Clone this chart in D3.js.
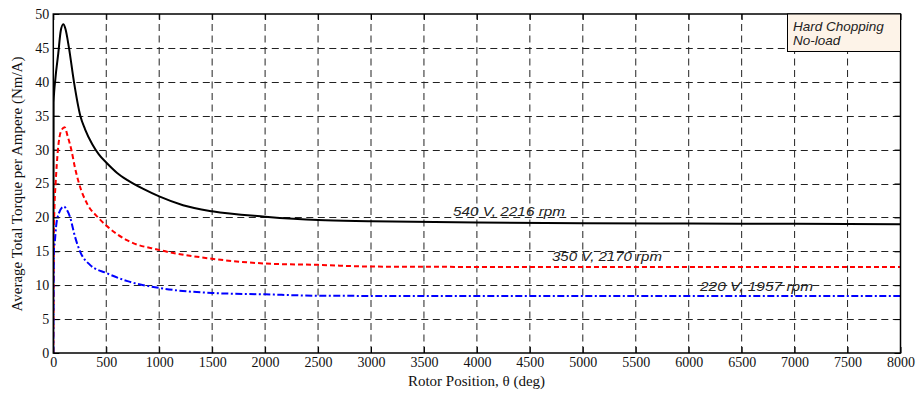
<!DOCTYPE html>
<html><head><meta charset="utf-8">
<script src="https://cdn.jsdelivr.net/npm/d3@7"></script>
<style>body{margin:0;background:#fff}svg{display:block}</style>
</head><body>
<svg id="c" width="919" height="394"></svg>
<script>
// ---- data ----
const xTicks = [0,500,1000,1500,2000,2500,3000,3500,4000,4500,5000,5500,6000,6500,7000,7500,8000];
const yTicks = [0,5,10,15,20,25,30,35,40,45,50];

const theta540 = [0,3,20,47,70,94,115,148,195,255,300,368,430,500,600,700,850,1000,1225,1500,2000,2500,3000,4000,5000,6000,7000,8000];
const torque540 = [0,37,40.5,44.2,47.5,48.5,47.8,45,40,35,33.0,30.8,29.3,28.1,26.6,25.5,24.2,23.1,21.8,20.9,20.1,19.6,19.45,19.25,19.15,19.1,19.05,19.0];

const theta350 = [0,5,10,22,44,75,107,135,170,205,243,320,422,500,700,1000,1500,2000,2500,3000,4000,5000,6000,7000,8000];
const torque350 = [0,17,21,25,30,32.8,33.3,32,30,27.3,25,22,20,18.8,16.6,15.2,13.9,13.2,13.0,12.75,12.7,12.7,12.7,12.7,12.7];

const theta220 = [0,5,15,26,50,100,125,157,204,252,346,500,700,1000,1500,2000,2500,3000,4000,5000,6000,7000,8000];
const torque220 = [0,15,16.5,18.6,20.5,21.6,21.2,20.1,17.2,15,13,11.8,10.6,9.6,8.85,8.65,8.45,8.42,8.4,8.4,8.4,8.4,8.4];

const seriesLabels = ["540 V, 2216 rpm","350 V, 2170 rpm","220 V, 1957 rpm"];
const boxLines = ["Hard Chopping","No-load"];

// ---- layout ----
const svg = d3.select("#c");
const L = 53.3, R = 900.5, T = 14, B = 353;
const x = d3.scaleLinear().domain([0,8000]).range([L,R]);
const y = d3.scaleLinear().domain([0,50]).range([B,T]);

// grid
const g = svg.append("g");
g.selectAll(".vg").data(xTicks.slice(1,-1)).enter().append("line")
  .attr("x1",d=>x(d)).attr("x2",d=>x(d)).attr("y1",B).attr("y2",T)
  .attr("stroke","#222").attr("stroke-width",1).attr("stroke-dasharray","7,4.5");
g.selectAll(".hg").data(yTicks.slice(1,-1)).enter().append("line")
  .attr("x1",L).attr("x2",R).attr("y1",d=>Math.round(y(d))+0.5).attr("y2",d=>Math.round(y(d))+0.5)
  .attr("stroke","#222").attr("stroke-width",1).attr("stroke-dasharray","7,4.5");

// axes with inward ticks
const xAx = svg.append("g").attr("transform",`translate(0,${B})`)
  .call(d3.axisBottom(x).tickValues(xTicks).tickSize(-6).tickPadding(4).tickFormat(d3.format("d")));
const yAx = svg.append("g").attr("transform",`translate(${L},0)`)
  .call(d3.axisLeft(y).tickValues(yTicks).tickSize(-6).tickPadding(4).tickFormat(d3.format("d")));
[xAx,yAx].forEach(a=>{
  a.select(".domain").remove();
  a.selectAll("text").attr("font-family","'Liberation Serif','Times New Roman',serif").attr("font-size","14px").attr("fill","#111");
  a.selectAll("line").attr("stroke","#000");
});
// top/right ticks
svg.append("g").attr("transform",`translate(0,${T})`).call(d3.axisTop(x).tickValues(xTicks).tickSize(-6).tickFormat(""))
  .call(a=>a.select(".domain").remove());
svg.append("g").attr("transform",`translate(${R},0)`).call(d3.axisRight(y).tickValues(yTicks).tickSize(-6).tickFormat(""))
  .call(a=>a.select(".domain").remove());

// curves
const line = d3.line().x(d=>x(d[0])).y(d=>y(d[1])).curve(d3.curveMonotoneX);
const series = [
  {t:theta540, v:torque540, color:"#000", dash:null},
  {t:theta350, v:torque350, color:"#ff0000", dash:"5,3"},
  {t:theta220, v:torque220, color:"#0000ff", dash:"7,2.5,2,2.5"}
];
svg.append("clipPath").attr("id","pa").append("rect").attr("x",L).attr("y",T).attr("width",R-L).attr("height",B-T);
series.forEach(s=>{
  svg.append("path").datum(d3.zip(s.t,s.v)).attr("d",line)
    .attr("fill","none").attr("stroke",s.color).attr("stroke-width",2)
    .attr("stroke-dasharray",s.dash).attr("clip-path","url(#pa)");
});

// axes box
svg.append("rect").attr("x",L).attr("y",T).attr("width",R-L).attr("height",B-T)
  .attr("fill","none").attr("stroke","#000").attr("stroke-width",1.5);

// series labels
const labelPos = [[453,216,112],[552,260.5,110],[700,290.5,113]];
seriesLabels.forEach((s,i)=>{
  svg.append("text").attr("x",labelPos[i][0]).attr("y",labelPos[i][1])
    .attr("textLength",labelPos[i][2]).attr("lengthAdjust","spacingAndGlyphs")
    .attr("font-family","'Liberation Sans',Arial,sans-serif").attr("font-style","italic")
    .attr("font-size","13.5px").attr("fill","#222").text(s);
});

// annotation box
svg.append("rect").attr("x",787.5).attr("y",14).attr("width",113).attr("height",37.5)
  .attr("fill","#fdf3e8").attr("stroke","#000").attr("stroke-width",1);
boxLines.forEach((s,i)=>{
  svg.append("text").attr("x",793).attr("y",31+i*14)
    .attr("font-family","'Liberation Sans',Arial,sans-serif").attr("font-style","italic")
    .attr("font-size","13.5px").attr("fill","#222").text(s);
});

// axis titles
svg.append("text").attr("x",476.5).attr("y",386).attr("text-anchor","middle")
  .attr("font-family","'Liberation Serif','Times New Roman',serif").attr("font-size","15px").attr("fill","#111")
  .text("Rotor Position, θ (deg)");
svg.append("text").attr("transform","translate(22,184) rotate(-90)").attr("text-anchor","middle")
  .attr("font-family","'Liberation Serif','Times New Roman',serif").attr("font-size","15px").attr("fill","#111")
  .text("Average Total Torque per Ampere (Nm/A)");
</script>
</body></html>
